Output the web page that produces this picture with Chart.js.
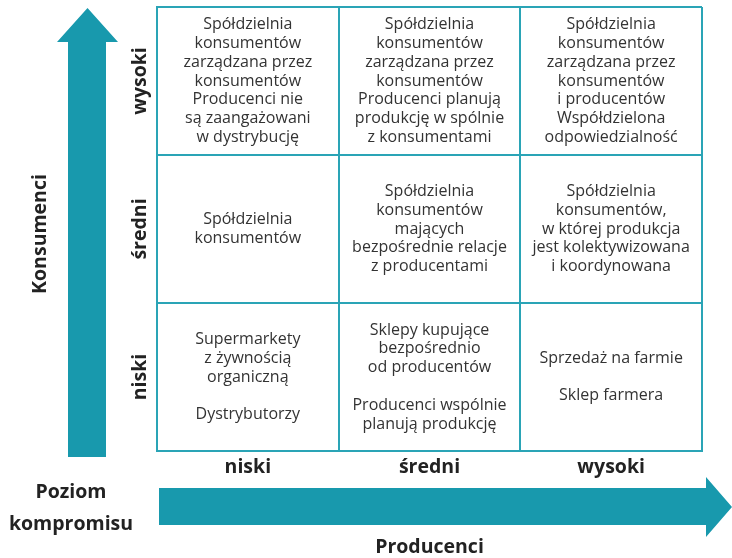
<!DOCTYPE html>
<html>
<head>
<meta charset="utf-8">
<script src="https://cdn.jsdelivr.net/npm/chart.js@4.4.1/dist/chart.umd.min.js"></script>
<style>
  html, body { margin: 0; padding: 0; background: #fff; }
  #wrap { width: 732px; height: 558px; }
</style>
</head>
<body>
<div id="wrap"><canvas id="matrix"></canvas></div>
<script>
// axis levels
const producerLevels = ['niski', 'średni', 'wysoki'];
const consumerLevels = ['wysoki', 'średni', 'niski'];
const producerTitle = 'Producenci';
const consumerTitle = 'Konsumenci';
const cornerTitle = ['Poziom', 'kompromisu'];

// cells (producer level, consumer level, text lines)
const cellProducer = ['niski', 'średni', 'wysoki', 'niski', 'średni', 'wysoki', 'niski', 'średni', 'wysoki'];
const cellConsumer = ['wysoki', 'wysoki', 'wysoki', 'średni', 'średni', 'średni', 'niski', 'niski', 'niski'];
const cellText = [
  ['Spółdzielnia', 'konsumentów', 'zarządzana przez', 'konsumentów', 'Producenci nie', 'są zaangażowani', 'w dystrybucję'],
  ['Spółdzielnia', 'konsumentów', 'zarządzana przez', 'konsumentów', 'Producenci planują', 'produkcję w spólnie', 'z konsumentami'],
  ['Spółdzielnia', 'konsumentów', 'zarządzana przez', 'konsumentów', 'i producentów', 'Współdzielona', 'odpowiedzialność'],
  ['Spółdzielnia', 'konsumentów'],
  ['Spółdzielnia', 'konsumentów', 'mających', 'bezpośrednie relacje', 'z producentami'],
  ['Spółdzielnia', 'konsumentów,', 'w której produkcja', 'jest kolektywizowana', 'i koordynowana'],
  ['Supermarkety', 'z żywnością', 'organiczną', '', 'Dystrybutorzy'],
  ['Sklepy kupujące', 'bezpośrednio', 'od producentów', '', 'Producenci wspólnie', 'planują produkcję'],
  ['Sprzedaż na farmie', '', 'Sklep farmera']
];

const TEAL = '#1899ad';
const LINE = '#2aa4b6';
const BOLD = 'bold 19.5px "Open Sans", sans-serif';

const matrixPlugin = {
  id: 'matrixPlugin',
  afterDraw(chart) {
    const { ctx, chartArea, scales } = chart;
    const ys = scales.y;
    ctx.save();

    // vertical arrow (Konsumenci)
    ctx.fillStyle = TEAL;
    ctx.beginPath();
    ctx.moveTo(68, chartArea.bottom + 6);
    ctx.lineTo(68, 42);
    ctx.lineTo(57, 42);
    ctx.lineTo(87.5, 8);
    ctx.lineTo(118, 42);
    ctx.lineTo(106, 42);
    ctx.lineTo(106, chartArea.bottom + 6);
    ctx.closePath();
    ctx.fill();

    // horizontal arrow (Producenci)
    ctx.beginPath();
    ctx.moveTo(chartArea.left + 2, 488);
    ctx.lineTo(706, 488);
    ctx.lineTo(706, 477);
    ctx.lineTo(732, 507);
    ctx.lineTo(706, 537);
    ctx.lineTo(706, 525);
    ctx.lineTo(chartArea.left + 2, 525);
    ctx.closePath();
    ctx.fill();

    ctx.fillStyle = '#222';
    ctx.font = BOLD;
    ctx.textAlign = 'center';
    ctx.textBaseline = 'middle';

    // y level labels, rotated
    consumerLevels.forEach((lvl, i) => {
      ctx.save();
      ctx.translate(140, ys.getPixelForValue(i));
      ctx.rotate(-Math.PI / 2);
      ctx.fillText(lvl, 0, 0);
      ctx.restore();
    });

    ctx.save();
    ctx.translate(40, (chartArea.top + chartArea.bottom) / 2 + 5);
    ctx.rotate(-Math.PI / 2);
    ctx.fillText(consumerTitle, 0, 0);
    ctx.restore();

    ctx.textBaseline = 'alphabetic';
    ctx.fillText(producerTitle, (chartArea.left + chartArea.right) / 2, 553);
    ctx.fillText(cornerTitle[0], 71, 498);
    ctx.fillText(cornerTitle[1], 71, 530);

    // cell texts at the point positions
    const meta = chart.getDatasetMeta(0);
    ctx.font = '16px "Open Sans", sans-serif';
    ctx.fillStyle = '#333';
    ctx.textBaseline = 'middle';
    const lh = 18.8;
    meta.data.forEach((pt, i) => {
      const lines = cellText[i];
      const y0 = pt.y - (lines.length - 1) * lh / 2;
      lines.forEach((t, j) => {
        if (t) ctx.fillText(t, pt.x, y0 + j * lh);
      });
    });
    ctx.restore();
  }
};

const points = cellProducer.map((p, i) => ({ x: p, y: cellConsumer[i] }));

new Chart(document.getElementById('matrix'), {
  type: 'scatter',
  data: {
    datasets: [{
      data: points,
      pointRadius: 0,
      pointHoverRadius: 0,
      showLine: false
    }]
  },
  options: {
    responsive: true,
    maintainAspectRatio: false,
    animation: false,
    events: [],
    layout: { padding: { left: 0, right: 30, top: 7, bottom: 0 } },
    plugins: {
      legend: { display: false },
      tooltip: { enabled: false }
    },
    scales: {
      x: {
        type: 'category',
        labels: producerLevels,
        offset: true,
        grid: { offset: true, color: LINE, lineWidth: 2, drawTicks: false },
        border: { color: LINE, width: 2 },
        ticks: {
          color: '#222',
          padding: 5,
          font: { family: '"Open Sans", sans-serif', size: 19.5, weight: 'bold' }
        },
        afterFit(scale) { scale.height = 107; }
      },
      y: {
        type: 'category',
        labels: consumerLevels,
        offset: true,
        grid: { offset: true, color: LINE, lineWidth: 2, drawTicks: false },
        border: { color: LINE, width: 2 },
        ticks: { display: false },
        afterFit(scale) { scale.width = 157; }
      }
    }
  },
  plugins: [matrixPlugin]
});
</script>
</body>
</html>
